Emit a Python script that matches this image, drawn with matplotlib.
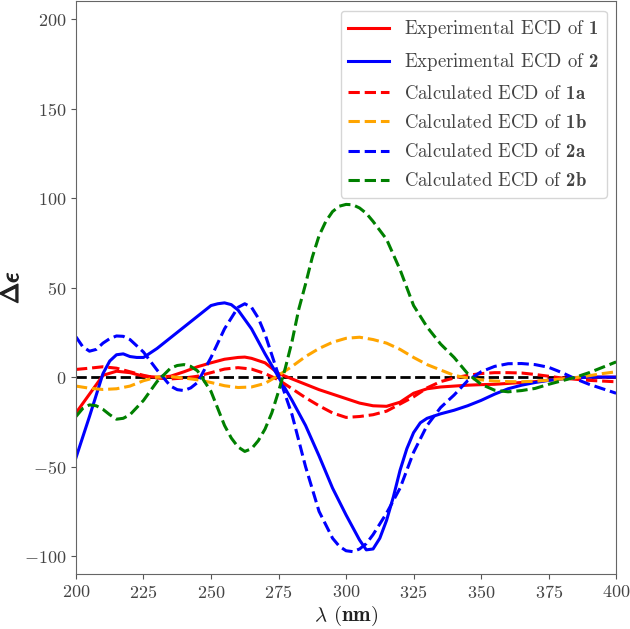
import matplotlib
matplotlib.use("Agg")
import matplotlib.pyplot as plt
import matplotlib.patheffects as pe

plt.rcParams['font.family'] = 'serif'
plt.rcParams['font.serif'] = ['cmr10']
plt.rcParams['mathtext.fontset'] = 'cm'
plt.rcParams['mathtext.rm'] = 'cmr10'
plt.rcParams['mathtext.it'] = 'cmmi10'
plt.rcParams['mathtext.bf'] = 'cmb10'
plt.rcParams['axes.formatter.use_mathtext'] = True

# Experimental ECD of 1
x_exp1 = [200, 205, 210, 215, 220, 225, 230, 235, 240, 245,
          250, 255, 260, 262.5, 265, 270, 275, 280, 285, 290, 295,
          300, 305, 310, 315, 320, 325, 330, 335, 340, 345,
          350, 355, 360, 365, 370, 375, 380, 385, 390, 395, 400]
y_exp1 = [-20, -9.5, 1, 3.3, 2.5, 0.5, 0, 0.5, 3, 5.8,
          8, 10, 11, 11.2, 10.5, 8, 2, -1, -4, -7, -9.5,
          -12, -14.5, -16, -16.3, -14, -9, -6.5, -5.5, -5, -4.5,
          -4.2, -4, -3.5, -3, -2.5, -1.7, -0.8, -0.2, 0, 0, 0]

# Experimental ECD of 2
x_exp2 = [200, 205, 210, 212.5, 215, 217.5, 220, 222.5, 225, 230, 235, 240, 245,
          250, 252.5, 255, 257.5, 260, 265, 270, 275, 280, 285, 290, 295,
          300, 305, 307.5, 310, 312.5, 315, 317.5, 320, 322.5, 325, 327.5, 330,
          335, 340, 345, 350, 355, 360, 365, 370, 375, 380, 385, 390, 395, 400]
y_exp2 = [-45, -22, 2, 9, 12.5, 13, 11.5, 11, 11, 16, 22, 28, 34,
          40, 41, 41.5, 40.5, 37.5, 27, 13, 0, -13, -27, -44, -62,
          -77, -91, -96.5, -96, -90, -80, -67, -52, -40, -31, -25.5, -23,
          -20.5, -18.5, -16, -13, -9.5, -6.5, -4.5, -3, -1.8, -1, -0.5, 0, 0, 0]

# Calculated ECD of 1a
x_1a = [200, 205, 210, 215, 220, 225, 230, 235, 240, 245,
        250, 255, 260, 265, 270, 275, 280, 285, 290, 295,
        300, 305, 310, 315, 320, 325, 330, 335, 340, 345,
        350, 355, 360, 365, 370, 375, 380, 385, 390, 395, 400]
y_1a = [4.3, 5, 5.8, 5, 3, 1, -0.5, -1, -0.5, 0.5,
        2.5, 4.5, 5.3, 4.5, 2, -1.5, -6.5, -11.5, -16, -20,
        -22.5, -22, -21, -19, -15, -11, -6, -2.5, -0.5, 1,
        2, 2.5, 2.5, 2.3, 1.5, 0.5, -0.5, -1.2, -1.8, -2.2, -2.6]

# Calculated ECD of 1b
x_1b = [200, 205, 210, 215, 220, 225, 230, 235, 240, 245,
        250, 255, 260, 265, 270, 275, 280, 285, 290, 295,
        300, 305, 310, 315, 320, 325, 330, 335, 340, 345,
        350, 355, 360, 365, 370, 375, 380, 385, 390, 395, 400]
y_1b = [-5, -6.2, -6.9, -6.5, -5, -2, 0, 0.3, -0.5, -1.5,
        -3, -4.8, -5.8, -5.5, -3.5, 1, 6, 11.5, 16, 19.5,
        21.7, 22.3, 21, 19, 15.5, 11, 7, 4, 1, -0.5,
        -1.5, -2.2, -2.5, -2.6, -2.3, -1.7, -1, -0.3, 0.8, 2, 3]

# Calculated ECD of 2a
x_2a = [200, 202.5, 205, 207.5, 210, 212.5, 215, 217.5, 220, 225, 230, 235, 237.5, 240, 242.5, 245,
        250, 255, 260, 262.5, 265, 267.5, 270, 275, 280, 285, 290, 295, 297.5,
        300, 302.5, 305, 307.5, 310, 315, 320, 325, 330, 335, 340, 345,
        350, 355, 360, 365, 370, 375, 380, 385, 390, 395, 400]
y_2a = [22.5, 17, 14.5, 15.5, 19, 21.5, 23, 22.8, 21, 14, 4, -5, -7, -7.5, -6, -3,
        11, 27, 39, 41, 39, 33, 24, 1, -21, -50, -75, -90, -94.5,
        -97, -97.5, -96, -93, -88, -76, -62, -42, -27, -17, -10, -2,
        3, 6, 7.5, 7.6, 7, 5.5, 2.5, -1, -4, -6.5, -9]

# Calculated ECD of 2b
x_2b = [200, 202.5, 205, 207.5, 210, 212.5, 215, 217.5, 220, 225, 230, 235, 237.5, 240, 242.5, 245,
        250, 255, 257.5, 260, 262.5, 265, 267.5, 270, 272.5, 275, 277.5, 280, 282.5, 285,
        287.5, 290, 292.5, 295, 297.5, 300, 302.5, 305, 307.5, 310, 315, 320, 325,
        330, 335, 340, 345, 350, 355, 360, 365, 370, 375, 380, 385, 390, 395, 400]
y_2b = [-22, -17.5, -15.5, -16, -18, -21, -23.5, -23, -21, -13, -2.5, 5, 6.5, 7, 6, 3.5,
        -8, -27, -34, -39, -41.5, -40, -35.5, -29, -20, -8, 5, 20, 38, 52,
        67, 79, 87, 92.5, 95.5, 96.5, 96.3, 94.5, 91.5, 87, 77, 60, 40,
        28, 18.5, 11, 2, -4, -7.3, -8.2, -7.5, -6.3, -4, -2, 0, 2.5, 5.5, 8.5]

labels = [r'Experimental ECD of $\mathbf{1}$',
          r'Experimental ECD of $\mathbf{2}$',
          r'Calculated ECD of $\mathbf{1a}$',
          r'Calculated ECD of $\mathbf{1b}$',
          r'Calculated ECD of $\mathbf{2a}$',
          r'Calculated ECD of $\mathbf{2b}$']
series = [(x_exp1, y_exp1), (x_exp2, y_exp2), (x_1a, y_1a),
          (x_1b, y_1b), (x_2a, y_2a), (x_2b, y_2b)]
colors = ['red', 'blue', 'red', 'orange', 'blue', 'green']
styles = ['-', '-', '--', '--', '--', '--']

fig, ax = plt.subplots(figsize=(6.30, 6.29), dpi=100)
fig.subplots_adjust(left=0.1206, right=0.978, bottom=0.0874, top=0.998)

ax.plot([200, 400], [0, 0], color='black', linestyle='--', linewidth=2)
for (x, y), c, s, lab in zip(series, colors, styles, labels):
    ax.plot(x, y, color=c, linestyle=s, linewidth=2.2, label=lab)

ax.set_xlim(200, 400)
ax.set_ylim(-110, 210)
ax.set_xticks([200, 225, 250, 275, 300, 325, 350, 375, 400])
ax.set_yticks([-100, -50, 0, 50, 100, 150, 200])
ax.tick_params(labelsize=13, labelcolor='#444444', color='#555555')
for sp in ax.spines.values():
    sp.set_color('#666666')

ax.set_xlabel(r'$\lambda$ $(\mathbf{nm})$', fontsize=15, color='#222222', labelpad=2)
ylab = ax.set_ylabel(r'$\Delta\epsilon$', fontsize=18, color='#222222')
ylab.set_path_effects([pe.withStroke(linewidth=0.9, foreground='#222222')])
ax.yaxis.set_label_coords(-0.098, 0.5)

leg = ax.legend(loc='upper right', fontsize=13.5, labelcolor='#444444',
                handlelength=2.2, labelspacing=0.6)
for t in leg.get_texts():
    t.set_math_fontfamily('custom')

fig.savefig('out.png', dpi=100)
